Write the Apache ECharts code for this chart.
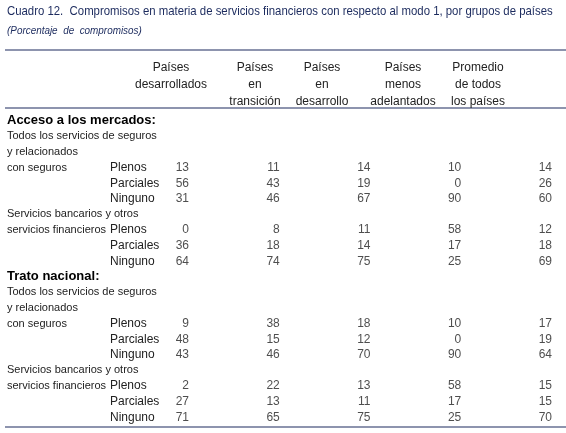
<!DOCTYPE html><html><head><meta charset="utf-8">
<script src="https://cdn.jsdelivr.net/npm/echarts@6/dist/echarts.min.js"></script>
<style>html,body{margin:0;padding:0;background:#fff}#c{width:566px;height:433px}</style></head><body><div id="c"></div>
<script>
const columns = ['Países\ndesarrollados','Países\nen\ntransición','Países\nen\ndesarrollo','Países\nmenos\nadelantados','Promedio\nde todos\nlos países'];
const groupLabels = ['{b|Acceso a los mercados:}','Todos los servicios de seguros','y relacionados','con seguros','','','Servicios bancarios y otros','servicios financieros','','',
  '{b|Trato nacional:}','Todos los servicios de seguros','y relacionados','con seguros','','','Servicios bancarios y otros','servicios financieros','',''];
const typeLabels = ['','','','Plenos','Parciales','Ninguno','','Plenos','Parciales','Ninguno','','','','Plenos','Parciales','Ninguno','','Plenos','Parciales','Ninguno'];
const dataRows = [3,4,5,7,8,9,13,14,15,17,18,19];
const values = [
 [13,11,14,10,14],[56,43,19,0,26],[31,46,67,90,60],
 [0,8,11,58,12],[36,18,14,17,18],[64,74,75,25,69],
 [9,38,18,10,17],[48,15,12,0,19],[43,46,70,90,64],
 [2,22,13,58,15],[27,13,11,17,15],[71,65,75,25,70]];
const F='"Liberation Sans Narrow","Liberation Sans",Arial,sans-serif';
const rowIdx = groupLabels.map((_,i)=>String(i));
const series = columns.map((c,ci)=>({type:'scatter',symbolSize:0,silent:true,
  data: values.map((r,k)=>[ci,String(dataRows[k]),r[ci]]),
  label:{show:true,position:'left',distance:0,formatter:p=>p.value[2],color:'#222',fontFamily:F,fontSize:12}}));
const headerX=[171,255,322,403,478];
const LC='#1c2b5e';
const chart=echarts.init(document.getElementById('c'));
chart.setOption({animation:false,
 grid:{left:189,right:14,top:113,bottom:8},
 xAxis:{type:'value',min:0,max:4,show:false},
 yAxis:[
  {type:'category',data:rowIdx,inverse:true,axisLine:{show:false},axisTick:{show:false},
   axisLabel:{formatter:(v)=>groupLabels[+v],align:'left',margin:182,color:'#222',fontFamily:F,fontSize:11,interval:0,
     rich:{b:{fontFamily:F,fontSize:13,fontWeight:'bold',color:'#000'}}}},
  {type:'category',data:rowIdx,inverse:true,position:'left',axisLine:{show:false},axisTick:{show:false},
   axisLabel:{formatter:(v)=>typeLabels[+v],align:'left',margin:79,color:'#222',fontFamily:F,fontSize:12,interval:0}}],
 series:series,
 graphic:[
  {type:'text',x:7,y:5,scaleX:0.875,style:{text:'Cuadro 12.  Compromisos en materia de servicios financieros con respecto al modo 1, por grupos de países',fill:'#1c2b5e',font:'13px '+F}},
  {type:'text',x:7,y:25,scaleX:0.9,style:{text:'(Porcentaje  de  compromisos)',fill:'#1c2b5e',font:'italic 11px '+F}},
  {type:'line',shape:{x1:5,y1:50,x2:566,y2:50},style:{stroke:LC,lineWidth:1.2}},
  {type:'line',shape:{x1:5,y1:108,x2:566,y2:108},style:{stroke:LC,lineWidth:1.2}},
  {type:'line',shape:{x1:5,y1:427,x2:566,y2:427},style:{stroke:LC,lineWidth:1.2}},
  ...columns.map((c,i)=>({type:'text',x:headerX[i],y:59,style:{text:c,align:'center',fill:'#222',font:'12px '+F,lineHeight:17}}))
 ]});
</script></body></html>
